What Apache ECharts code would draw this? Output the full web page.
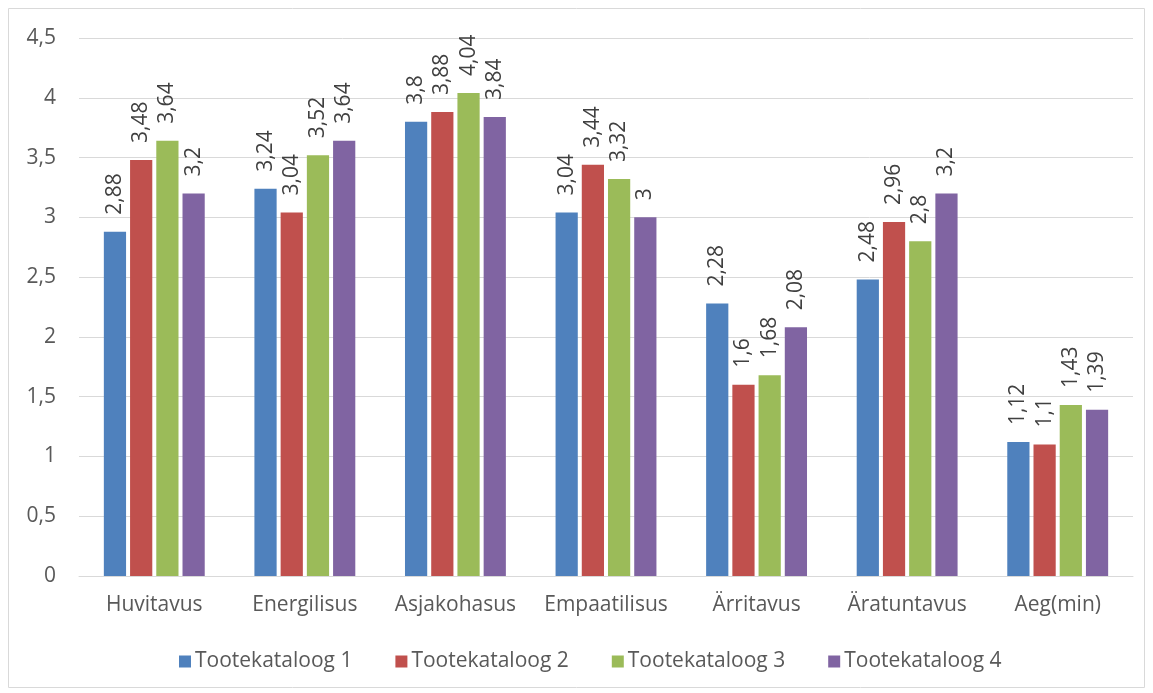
<!DOCTYPE html>
<html>
<head>
<meta charset="utf-8">
<script src="https://cdn.jsdelivr.net/npm/echarts@6/dist/echarts.min.js"></script>
<style>
  html, body { margin: 0; padding: 0; background: #fff; }
  #chart { width: 1153px; height: 693px; }
</style>
</head>
<body>
<div id="chart"></div>
<script>
// data
var categories = ['Huvitavus', 'Energilisus', 'Asjakohasus', 'Empaatilisus', 'Ärritavus', 'Äratuntavus', 'Aeg(min)'];
var seriesNames = ['Tootekataloog 1', 'Tootekataloog 2', 'Tootekataloog 3', 'Tootekataloog 4'];
var kataloog1 = [2.88, 3.24, 3.8, 3.04, 2.28, 2.48, 1.12];
var kataloog2 = [3.48, 3.04, 3.88, 3.44, 1.6, 2.96, 1.1];
var kataloog3 = [3.64, 3.52, 4.04, 3.32, 1.68, 2.8, 1.43];
var kataloog4 = [3.2, 3.64, 3.84, 3, 2.08, 3.2, 1.39];
var colors = ['#4f81bd', '#c0504d', '#9bbb59', '#8064a2'];

var allValues = [kataloog1, kataloog2, kataloog3, kataloog4];
var font = '"Open Sans", "Liberation Sans", sans-serif';

function comma(v) {
    return String(v).replace('.', ',');
}

var series = allValues.map(function (vals, i) {
    return {
        name: seriesNames[i],
        type: 'bar',
        data: vals,
        barGap: '18%',
        barCategoryGap: '33%',
        itemStyle: { color: colors[i] },
        label: {
            show: true,
            position: 'top',
            rotate: 90,
            align: 'left',
            verticalAlign: 'middle',
            distance: 17,
            color: '#404040',
            fontFamily: font,
            fontSize: 21,
            formatter: function (p) { return comma(p.value); }
        }
    };
});

var myChart = echarts.init(document.getElementById('chart'));
var option = {
    animation: false,
    color: colors,
    textStyle: { fontFamily: font },
    graphic: [{
        type: 'rect',
        shape: { x: 8.5, y: 8.5, width: 1136, height: 679 },
        style: { fill: 'none', stroke: '#d9d9d9', lineWidth: 1 },
        silent: true
    }],
    grid: { left: 79, right: 20, top: 38, bottom: 117 },
    legend: {
        data: seriesNames,
        top: 646,
        left: 174,
        itemWidth: 12,
        itemHeight: 12,
        itemGap: 43,
        icon: 'rect',
        textStyle: { color: '#595959', fontSize: 21, fontFamily: font, padding: [0, 0, 0, -1] }
    },
    xAxis: {
        type: 'category',
        data: categories,
        axisTick: { show: false },
        axisLine: { lineStyle: { color: '#d9d9d9', width: 1 } },
        axisLabel: { interval: 0, hideOverlap: false, color: '#595959', fontSize: 21, margin: 19, fontFamily: font }
    },
    yAxis: {
        type: 'value',
        min: 0,
        max: 4.5,
        interval: 0.5,
        axisLine: { show: false },
        axisTick: { show: false },
        splitLine: { lineStyle: { color: '#d9d9d9', width: 1 } },
        axisLabel: {
            color: '#595959',
            fontSize: 21,
            margin: 23,
            fontFamily: font,
            formatter: function (v) { return comma(v); }
        }
    },
    series: series
};
myChart.setOption(option);
</script>
</body>
</html>
